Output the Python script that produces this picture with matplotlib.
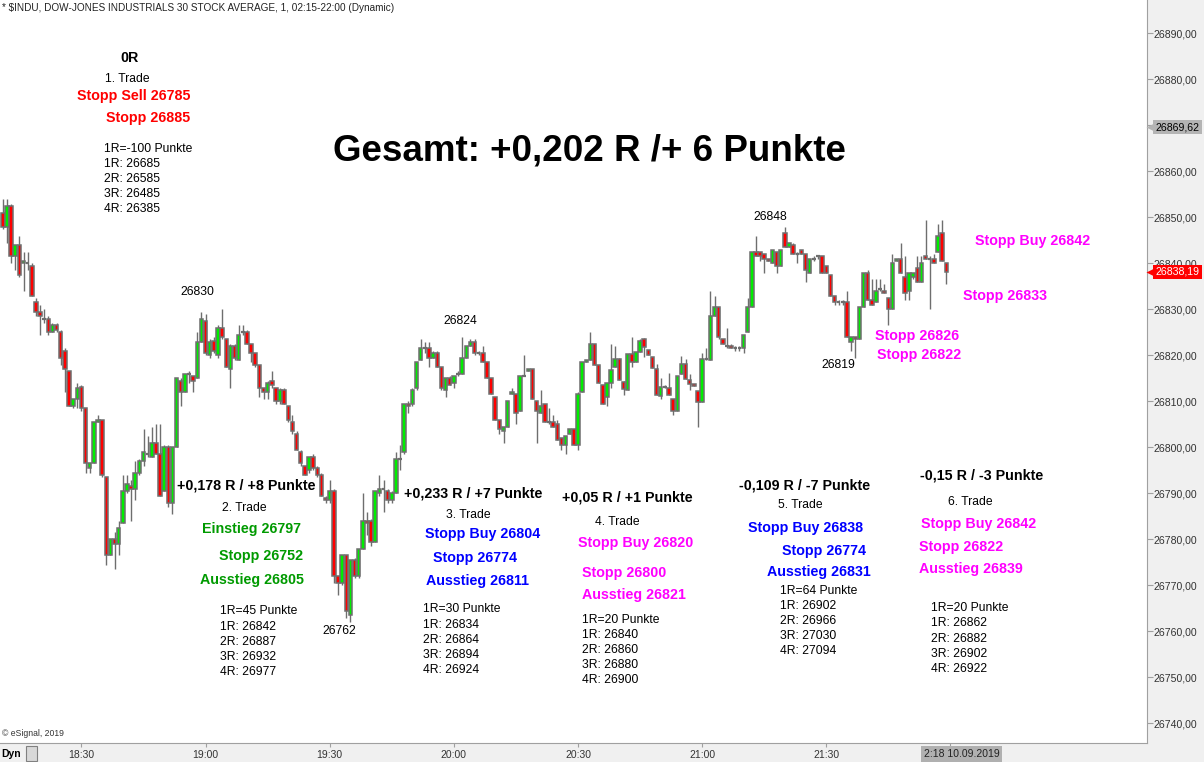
import numpy as np
import matplotlib
matplotlib.use('Agg')
import matplotlib.pyplot as plt
from matplotlib.patches import Rectangle

plt.rcParams['font.family'] = ['Liberation Sans', 'DejaVu Sans']

W, H = 1204, 762

# 1-minute candles, first bar 18:11 (minutes counted from 18:00)
first_minute = 11
opens = [26851, 26848, 26852.5, 26841.5, 26844, 26840, 26840, 26839.5, 26831.5, 26829.5,
         26828, 26828, 26825, 26826.5, 26825, 26821, 26816.5, 26809, 26810.5, 26813,
         26808.5, 26795.5, 26796.5, 26805.5, 26806, 26793.5, 26776.5, 26780, 26779, 26783.5,
         26790.5, 26791.5, 26791, 26794.5, 26797, 26798.5, 26798, 26801, 26798.5, 26790.5,
         26800, 26788, 26800, 26814.5, 26812, 26816, 26815.5, 26815,
         26823, 26827.5, 26820, 26823, 26820, 26826, 26823.5, 26817, 26822, 26819,
         26825, 26825, 26822.5, 26820.5, 26818, 26813, 26812, 26814.5, 26813, 26810,
         26812.5, 26809, 26805.5, 26803, 26799, 26796, 26795, 26798, 26795.5, 26794,
         26789, 26788.5, 26790.5, 26772, 26770.5, 26776.5, 26763.5, 26775.5, 26772, 26778,
         26784, 26784, 26779.5, 26790, 26791, 26790.5, 26788.5, 26790,
         26797.5, 26799, 26809.5, 26809.5, 26813, 26819, 26821.5, 26821.5, 26819.5, 26820.5,
         26817.5, 26812.5, 26815, 26814, 26816, 26816, 26819.5, 26822, 26823, 26820.5,
         26820.5, 26818.5, 26815, 26811, 26806, 26803.5, 26804.5, 26811.5, 26811.5, 26808,
         26815.5, 26816.5, 26817, 26810, 26807.5, 26809.5, 26805.5, 26805.5, 26805, 26802,
         26800.5, 26803, 26804, 26800.5, 26812, 26818.5, 26819, 26822.5, 26818, 26813.5,
         26811, 26814, 26817.5, 26819.3, 26814.3, 26812.5, 26820.2, 26818.5, 26820.8, 26823.5,
         26821.2, 26819.7, 26817, 26811.2, 26813.2, 26812.8, 26810.6, 26808, 26815.9, 26818.2,
         26814.6, 26813.7, 26812.3, 26809.9, 26819.1,
         26819, 26828.5, 26830.5, 26823.5, 26822, 26822, 26821.5, 26821.5, 26821.5, 26825,
         26830.5, 26842.5, 26842.5, 26842, 26841, 26840, 26842.5, 26839.5, 26846.5, 26843.5,
         26844, 26842, 26843, 26842, 26838, 26841, 26841.5, 26841.5, 26839.5, 26837.5,
         26833, 26831.5, 26831.5, 26831.5, 26823, 26824, 26823.5, 26830.5, 26838, 26832,
         26831.5, 26834.5, 26834, 26832.5, 26830, 26840.5, 26841, 26837, 26834, 26837,
         26839, 26836, 26841.5, 26841, 26841, 26842.5, 26846.5, 26840]
highs = [26854, 26854, 26853, 26844, 26846, 26842.5, 26842.5, 26840, 26832.5, 26831,
         26830, 26828.5, 26827, 26827, 26825.5, 26821.5, 26816.5, 26810.5, 26814, 26813.5,
         26808.5, 26796.5, 26805.5, 26807, 26806, 26793.5, 26780, 26781.5, 26784, 26794,
         26794, 26793, 26797, 26797.5, 26804, 26802.5, 26804.5, 26805, 26805, 26800.5,
         26800.5, 26800, 26815, 26815, 26816, 26816.5, 26815.5, 26825,
         26829.5, 26829, 26823.5, 26824, 26826.5, 26830, 26823.5, 26822.5, 26822.5, 26826.5,
         26826.5, 26825.5, 26822.5, 26820.5, 26818, 26813, 26814.5, 26816.5, 26813, 26813,
         26813, 26809, 26807, 26803.5, 26799.5, 26796, 26798, 26798.5, 26796, 26794.5,
         26789.5, 26793, 26791, 26772, 26776.5, 26776.5, 26775.5, 26776, 26778, 26790,
         26786, 26784.5, 26790.5, 26794, 26793, 26791, 26790.5, 26799,
         26800.5, 26809.5, 26810, 26813, 26818.5, 26823.5, 26823, 26823, 26821, 26821,
         26817.5, 26815, 26815.5, 26815.5, 26816.5, 26824, 26822, 26823.5, 26823.5, 26821,
         26822, 26818.5, 26815, 26811, 26806, 26804.5, 26810, 26813, 26811.5, 26815.5,
         26820, 26817, 26817, 26810, 26812.5, 26809.5, 26808.5, 26807, 26806, 26802,
         26802.5, 26804, 26804, 26812, 26818.5, 26819, 26825, 26822.5, 26818, 26813.5,
         26813.5, 26822.5, 26822, 26819.5, 26814.5, 26820.2, 26824, 26820.8, 26823.5, 26823.7,
         26821.2, 26819.7, 26818.2, 26815, 26813.5, 26816.2, 26810.6, 26815.5, 26819.8, 26819.3,
         26815.9, 26813.8, 26812.3, 26820.4, 26821.5,
         26834, 26833, 26830.5, 26823.5, 26826, 26822.5, 26822, 26822, 26824.5, 26832.5,
         26842.5, 26846, 26842, 26842, 26841, 26843, 26842.5, 26843, 26848, 26844.5,
         26844.5, 26842.5, 26843, 26842, 26841, 26841.5, 26841.5, 26841.5, 26839.5, 26837.5,
         26833, 26832, 26832, 26834, 26824, 26824, 26830.5, 26838, 26838.5, 26836.5,
         26836.5, 26836.5, 26835.5, 26832.5, 26842, 26841, 26844.5, 26841.5, 26838, 26838,
         26841.5, 26841.5, 26849.5, 26841.5, 26842, 26848.5, 26849.5, 26840]
lows = [26847.5, 26844.5, 26840, 26838.5, 26837, 26834, 26838.5, 26833, 26828.5, 26824.5,
        26827, 26824.5, 26825, 26825, 26818, 26812, 26809, 26808.5, 26808.5, 26808,
        26794.5, 26794.5, 26796.5, 26805.5, 26793.5, 26774.5, 26776.5, 26773.5, 26776.5, 26783.5,
        26790, 26784, 26788.5, 26794, 26796, 26798, 26798, 26798.5, 26789.5, 26790.5,
        26787, 26785.5, 26800, 26809, 26812, 26814, 26812, 26815,
        26823, 26820, 26819.5, 26820.5, 26819.5, 26823.5, 26817.5, 26813, 26819, 26819,
        26824.5, 26822.5, 26818.5, 26817.5, 26811, 26810.5, 26810.5, 26813, 26809.5, 26809.5,
        26809.5, 26805.5, 26803, 26799.5, 26796, 26794, 26794.5, 26795, 26793.5, 26789.5,
        26788, 26788, 26770.5, 26768, 26770, 26763, 26762, 26771.5, 26771.5, 26778,
        26781, 26778.5, 26779.5, 26789.5, 26786, 26788, 26788, 26790,
        26795, 26798.5, 26807.5, 26809, 26812.5, 26819, 26820.5, 26817.5, 26819.5, 26817.5,
        26812.5, 26811, 26813.5, 26813, 26815.5, 26816, 26819.5, 26822, 26820, 26820,
        26818.5, 26815, 26811.5, 26806, 26803, 26801, 26804.5, 26811.5, 26805, 26808,
        26815.5, 26816.5, 26810.5, 26801, 26807.5, 26805.5, 26805, 26804.5, 26801.5, 26799.5,
        26798.5, 26803, 26800.5, 26799.5, 26812, 26818.5, 26819, 26818, 26814, 26809.5,
        26809, 26812.8, 26817.5, 26814.6, 26811.4, 26812.5, 26817.4, 26818.5, 26820.8, 26819.6,
        26820.1, 26817.2, 26811.4, 26810.4, 26813, 26811.4, 26807, 26808, 26815.9, 26814.8,
        26812.5, 26813.3, 26804.5, 26809.9, 26819,
        26819, 26828.5, 26823.5, 26822.5, 26821.5, 26821.5, 26821, 26821, 26820.5, 26825,
        26830.5, 26841.5, 26840.5, 26838, 26840.5, 26840, 26838, 26839.5, 26843.5, 26843.5,
        26842, 26840, 26842, 26836, 26838, 26840.5, 26841, 26838, 26838, 26833,
        26831, 26831, 26831, 26824, 26821, 26819.5, 26823.5, 26830.5, 26832, 26831,
        26831.5, 26834, 26833.5, 26826.5, 26830, 26840.5, 26838, 26832, 26832, 26836.5,
        26836, 26836, 26841, 26830, 26840, 26842.5, 26840.5, 26835.5]
closes = [26848, 26852.5, 26841.5, 26844, 26837.5, 26840.5, 26840, 26833, 26829.5, 26828.5,
          26828, 26825, 26826.5, 26825.5, 26819.5, 26817, 26809, 26810.5, 26813, 26808.5,
          26796.5, 26796.5, 26805.5, 26806, 26794, 26776.5, 26780, 26779, 26782.5, 26790.5,
          26792, 26791, 26794.5, 26797, 26799, 26798.5, 26801, 26798.5, 26789.5, 26800,
          26788, 26800, 26815, 26812, 26816, 26816, 26814.5, 26823,
          26828, 26820.5, 26823, 26821, 26826, 26824, 26817.5, 26822, 26819.5, 26824.5,
          26825, 26822.5, 26820.5, 26818, 26813, 26812, 26814, 26813.5, 26810, 26812.5,
          26809.5, 26806, 26803.5, 26799.5, 26796.5, 26794, 26798, 26795.5, 26794, 26789.5,
          26788.5, 26790.5, 26772, 26770.5, 26776.5, 26764.5, 26775.5, 26772, 26778, 26784,
          26783.5, 26779.5, 26790.5, 26791, 26791, 26788.5, 26790, 26797.5,
          26797.5, 26809.5, 26809, 26812.5, 26818.5, 26821.5, 26821.5, 26819.5, 26820.5, 26817.5,
          26813, 26815, 26813.5, 26815.5, 26816, 26819.5, 26822, 26823, 26820.5, 26820.5,
          26818.5, 26815, 26811.5, 26806, 26804, 26804.5, 26810, 26812, 26807.5, 26815.5,
          26815.5, 26817, 26810.5, 26808, 26809, 26805.5, 26805.5, 26804.5, 26801.5, 26800.5,
          26802.5, 26804, 26800.5, 26811.5, 26818.5, 26819, 26822.5, 26818, 26814, 26809.5,
          26814, 26816.7, 26819.3, 26814.6, 26812.6, 26820.2, 26818.5, 26820.8, 26823.2, 26821.9,
          26820.1, 26817.2, 26811.4, 26813.2, 26813.2, 26811.4, 26807.9, 26815.5, 26818.2, 26814.8,
          26813.8, 26813.3, 26809.9, 26819.3, 26819.1,
          26828.5, 26830.5, 26824, 26822.5, 26822, 26821.5, 26821.5, 26821.5, 26824.5, 26830.5,
          26842.5, 26841.5, 26841.5, 26841, 26840.5, 26843, 26839.5, 26843, 26843.5, 26844.5,
          26842, 26842, 26842, 26838.5, 26841, 26841, 26841.5, 26838, 26838, 26833,
          26831.5, 26831.5, 26831.5, 26824, 26824, 26823.5, 26830.5, 26838, 26832, 26831,
          26834, 26834.5, 26833.5, 26830, 26840, 26841, 26838, 26833.5, 26838, 26838,
          26836, 26840, 26841, 26841, 26840, 26846, 26840.5, 26838.19]

last_price = 26838.19
marker_price = 26869.62
ytick_values = list(range(26740, 26891, 10))
xtick_minutes = [30, 60, 90, 120, 150, 180, 210]
xtick_labels = ['18:30', '19:00', '19:30', '20:00', '20:30', '21:00', '21:30']
cursor_label = '2:18 10.09.2019'
title_text = '* $INDU, DOW-JONES INDUSTRIALS 30 STOCK AVERAGE, 1, 02:15-22:00 (Dynamic)'

RED = '#ff0000'
GRN = '#009a00'
BLU = '#0000ff'
MAG = '#ff00ff'

# (x px, y px, text, colour, bold)
notes = [
    (130, 58, '0R', 'black', True),
    (127, 79, '1. Trade', 'black', False),
    (134, 96, 'Stopp Sell 26785', RED, True),
    (148, 118, 'Stopp 26885', RED, True),
    (197, 292, '26830', 'black', False),
    (460, 321, '26824', 'black', False),
    (770, 217, '26848', 'black', False),
    (838, 365, '26819', 'black', False),
    (339, 631, '26762', 'black', False),
    (1033, 241, 'Stopp Buy 26842', MAG, True),
    (1005, 296, 'Stopp 26833', MAG, True),
    (917, 336, 'Stopp 26826', MAG, True),
    (919, 355, 'Stopp 26822', MAG, True),
    (246, 486, '+0,178 R / +8 Punkte', 'black', True),
    (244, 508, '2. Trade', 'black', False),
    (252, 529, 'Einstieg 26797', GRN, True),
    (261, 556, 'Stopp 26752', GRN, True),
    (252, 580, 'Ausstieg 26805', GRN, True),
    (473, 494, '+0,233 R / +7 Punkte', 'black', True),
    (468, 515, '3. Trade', 'black', False),
    (483, 534, 'Stopp Buy 26804', BLU, True),
    (475, 558, 'Stopp 26774', BLU, True),
    (477, 581, 'Ausstieg 26811', BLU, True),
    (627, 497, '+0,05 R / +1 Punkte', 'black', True),
    (617, 522, '4. Trade', 'black', False),
    (636, 543, 'Stopp Buy 26820', MAG, True),
    (624, 573, 'Stopp 26800', MAG, True),
    (634, 595, 'Ausstieg 26821', MAG, True),
    (805, 485, '-0,109 R / -7 Punkte', 'black', True),
    (800, 505, '5. Trade', 'black', False),
    (806, 528, 'Stopp Buy 26838', BLU, True),
    (824, 551, 'Stopp 26774', BLU, True),
    (819, 572, 'Ausstieg 26831', BLU, True),
    (982, 476, '-0,15 R / -3 Punkte', 'black', True),
    (970, 502, '6. Trade', 'black', False),
    (979, 524, 'Stopp Buy 26842', MAG, True),
    (961, 547, 'Stopp 26822', MAG, True),
    (971, 569, 'Ausstieg 26839', MAG, True),
]

# risk blocks: (left x px, first line y px, lines)
r_blocks = [
    (104, 148.7, ['1R=-100 Punkte', '1R: 26685', '2R: 26585', '3R: 26485', '4R: 26385']),
    (220, 611.5, ['1R=45 Punkte', '1R: 26842', '2R: 26887', '3R: 26932', '4R: 26977']),
    (423, 609.5, ['1R=30 Punkte', '1R: 26834', '2R: 26864', '3R: 26894', '4R: 26924']),
    (582, 620, ['1R=20 Punkte', '1R: 26840', '2R: 26860', '3R: 26880', '4R: 26900']),
    (780, 591, ['1R=64 Punkte', '1R: 26902', '2R: 26966', '3R: 27030', '4R: 27094']),
    (931, 608.3, ['1R=20 Punkte', '1R: 26862', '2R: 26882', '3R: 26902', '4R: 26922']),
]

fig = plt.figure(figsize=(W / 100, H / 100), dpi=100, facecolor='#f0f0f0')
ax = fig.add_axes([0, (H - 743) / H, 1147 / W, 743 / H])
ax.set_facecolor('white')

# px scale: 4.138 px per minute, 4.6 px per index point
ax.set_xlim(10.32, 10.32 + 1147 / 4.138)
ax.set_ylim(26890 - (743 - 33.3) / 4.6, 26890 + 33.3 / 4.6)

minutes = first_minute + np.arange(len(closes))
edge = '#6e6e6e'
ax.vlines(minutes, lows, highs, color=edge, lw=1, zorder=2)
for m, o, c in zip(minutes, opens, closes):
    if abs(c - o) < 0.35:
        ax.hlines(o, m - 0.42, m + 0.42, color=edge, lw=1.6, zorder=3)
        continue
    col = '#00ee00' if c > o else '#ff0000'
    ax.add_patch(Rectangle((m - 0.42, min(o, c)), 0.84, abs(c - o),
                           facecolor=col, edgecolor=edge, lw=1.1, zorder=3))

for s in ['left', 'top']:
    ax.spines[s].set_visible(False)
for s in ['right', 'bottom']:
    ax.spines[s].set_color('#a0a0a0')

ax.yaxis.tick_right()
ax.set_yticks(ytick_values)
ax.set_yticklabels([f'{v:.2f}'.replace('.', ',') for v in ytick_values])
ax.tick_params(axis='y', length=4, pad=1, labelsize=7.6, colors='#a0a0a0', labelcolor='#333333')
ax.set_xticks(xtick_minutes + [240])
ax.set_xticklabels(xtick_labels + [''])
ax.tick_params(axis='x', length=3, pad=2, labelsize=7.5, colors='#a0a0a0', labelcolor='#333333')

# price markers on the right axis
for price, fc, tc in [(last_price, '#ff0000', 'white'), (marker_price, '#b4b4b4', 'black')]:
    ax.text(1.0075, price, f'{price:.2f}'.replace('.', ','), transform=ax.get_yaxis_transform(),
            ha='left', va='center', fontsize=7.6, color=tc, zorder=10, clip_on=False,
            bbox=dict(boxstyle='square,pad=0.2', fc=fc, ec='none'))
    ax.plot([1.0028], [price], marker='<', ms=5.5, color=fc, mec='none',
            transform=ax.get_yaxis_transform(), clip_on=False, zorder=11)


def px(x, y):
    return x / W, 1 - y / H


fig.text(*px(2, 8), title_text, ha='left', va='center', fontsize=7.2, color='#222222')
fig.text(*px(2, 733), '© eSignal, 2019', ha='left', va='center', fontsize=6.2, color='#333333')
fig.text(*px(924, 754), cursor_label, ha='left', va='center', fontsize=7.5, color='#222222',
         bbox=dict(boxstyle='square,pad=0.25', fc='#b0b0b0', ec='none'))
fig.text(*px(1, 754), 'Dyn', ha='left', va='center', fontsize=7.5, fontweight='bold')
fig.patches.append(Rectangle(px(26, 761), 11 / W, 15 / H, transform=fig.transFigure,
                             fc='#d8d8d8', ec='#808080', lw=0.8))

fig.text(*px(589, 151), 'Gesamt: +0,202 R /+ 6 Punkte', ha='center', va='center',
         fontsize=26.5, fontweight='bold')

for x, y, s, col, bold in notes:
    fig.text(*px(x, y), s, ha='center', va='center', color=col,
             fontsize=10.3 if bold else 8.7, fontweight='bold' if bold else 'normal')

for x, y0, lines in r_blocks:
    for k, line in enumerate(lines):
        fig.text(*px(x, y0 + 15.1 * k), line, ha='left', va='center', fontsize=8.7)

fig.savefig('out.png', dpi=100, facecolor=fig.get_facecolor())
